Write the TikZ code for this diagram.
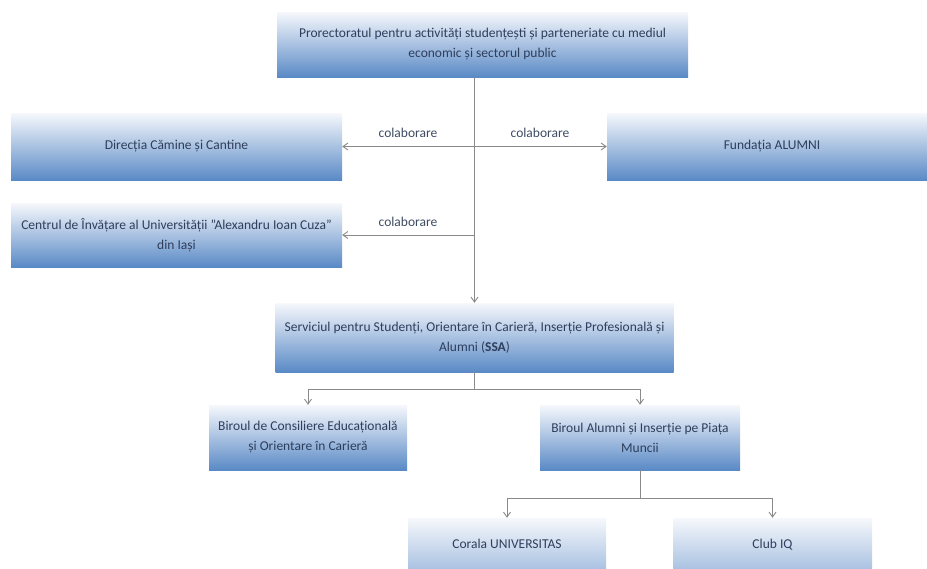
\documentclass[tikz,border=0pt]{standalone}
\usepackage{fontspec}
\setmainfont{Carlito}
\usetikzlibrary{arrows.meta}
\definecolor{boxtop}{HTML}{F6F8FC}
\definecolor{boxbot}{HTML}{5A8AC6}
\definecolor{txt}{HTML}{2F3E5C}
\definecolor{lin}{HTML}{8A8A8A}
\tikzset{
  box/.style={draw=none, top color=boxtop, bottom color=boxbot,
    text=txt, align=center, inner sep=0pt, font=\fontsize{13.5}{20}\selectfont},
  conn/.style={draw=lin, line width=0.9pt},
  arr/.style={-{Straight Barb[length=5pt,width=7pt]}},
  lbl/.style={text=txt!80!gray, font=\fontsize{13.5}{16}\selectfont}
}
\begin{document}
\begin{tikzpicture}[x=1pt,y=-1pt]
\useasboundingbox (0,0) rectangle (927,568);
\clip (0,0) rectangle (927,568);
\node[box, minimum width=411pt, minimum height=65pt] (top) at (482.5,44.5)
  {Prorectoratul pentru activități studențești și parteneriate cu mediul\\ economic și sectorul public};
\node[box, minimum width=331pt, minimum height=67pt] (dir) at (176.5,146.5)
  {Direcția Cămine și Cantine};
\node[box, minimum width=330pt, minimum height=67pt] (fund) at (772,146.5)
  {Fundația ALUMNI};
\node[box, minimum width=331pt, minimum height=64pt] (cen) at (176.5,235)
  {Centrul de Învățare al Universității "Alexandru Ioan Cuza"\\ din Iași};
\node[box, minimum width=398pt, minimum height=69pt] (ssa) at (474.5,337.5)
  {Serviciul pentru Studenți, Orientare în Carieră, Inserție Profesională și\\ Alumni (\textbf{SSA})};
\node[box, minimum width=198pt, minimum height=65pt] (cons) at (308,437.5)
  {Biroul de Consiliere Educațională\\ și Orientare în Carieră};
\node[box, minimum width=200pt, minimum height=65pt] (alum) at (640,437.5)
  {Biroul Alumni și Inserție pe Piața\\ Muncii};
\node[box, minimum width=198pt, minimum height=104pt, text depth=53pt] (cor) at (507,570)
  {Corala UNIVERSITAS};
\node[box, minimum width=199pt, minimum height=104pt, text depth=53pt] (club) at (772.5,570)
  {Club IQ};
% connectors
\draw[conn, arr] (top.south -| ssa.north) -- (ssa.north);
\draw[conn, arr] (ssa.north |- dir.east) -- (dir.east);
\draw[conn, arr] (ssa.north |- fund.west) -- (fund.west);
\draw[conn, arr] (ssa.north |- cen.east) -- (cen.east);
\node[lbl] (l1) at (408,133) {colaborare};
\node[lbl] (l2) at (540,133) {colaborare};
\node[lbl] (l3) at (408,222) {colaborare};
\coordinate (j1) at (474.5,389);
\draw[conn] (ssa.south) -- (j1);
\draw[conn, arr] (j1) -| (cons.north);
\draw[conn, arr] (j1) -| (alum.north);
\coordinate (j2) at (640,498);
\draw[conn] (alum.south) -- (j2);
\draw[conn, arr] (j2) -| (cor.north);
\draw[conn, arr] (j2) -| (club.north);
\end{tikzpicture}
\end{document}
